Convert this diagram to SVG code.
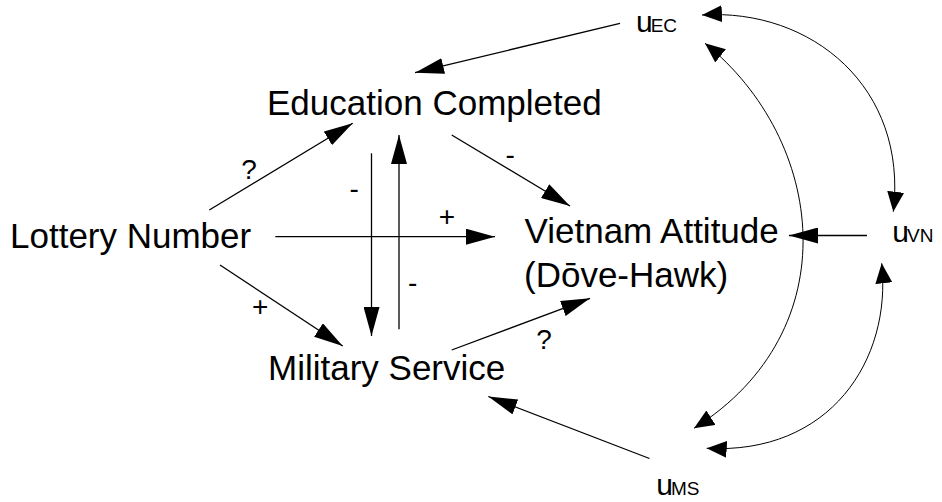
<svg xmlns="http://www.w3.org/2000/svg" width="942" height="502" viewBox="0 0 942 502">
  <defs>
    <style>
      .node { font-family: "Liberation Sans", Arial, sans-serif; font-size: 35px; fill: #000; }
      .u { font-family: "Liberation Sans", Arial, sans-serif; font-size: 30px; fill: #000; }
      .sub { font-size: 19px; }
      .lbl { font-family: "Liberation Sans", Arial, sans-serif; font-size: 28px; fill: #000; }
      .edge { fill: none; stroke: #000; stroke-width: 1.3; }
      .curve { fill: none; stroke: #000; stroke-width: 1; }
    </style>
    <marker id="arrow" markerUnits="userSpaceOnUse" markerWidth="29" markerHeight="16" refX="29" refY="8" orient="auto">
      <path d="M0,0 L29,8 L0,16 z" fill="#000"/>
    </marker>
    <marker id="carrow" markerUnits="userSpaceOnUse" markerWidth="20" markerHeight="17" refX="20" refY="8.5" orient="auto-start-reverse">
      <path d="M0,0 L20,8.5 L0,17 z" fill="#000"/>
    </marker>
  </defs>
  <rect width="942" height="502" fill="#fff"/>

  <g id="connectors">
    <line class="edge" x1="620" y1="23.3" x2="415" y2="72.7" marker-end="url(#arrow)"/>
    <line class="edge" x1="209.3" y1="210" x2="352.7" y2="123.3" marker-end="url(#arrow)"/>
    <line class="edge" x1="220" y1="265" x2="342.7" y2="346" marker-end="url(#arrow)"/>
    <line class="edge" x1="275.3" y1="236.7" x2="495" y2="236.7" marker-end="url(#arrow)"/>
    <line class="edge" x1="371.5" y1="153.3" x2="371.5" y2="336" marker-end="url(#arrow)"/>
    <line class="edge" x1="399" y1="329.3" x2="399" y2="135" marker-end="url(#arrow)"/>
    <line class="edge" x1="451.7" y1="135" x2="570" y2="206" marker-end="url(#arrow)"/>
    <line class="edge" x1="451.7" y1="350" x2="590" y2="298.3" marker-end="url(#arrow)"/>
    <line class="edge" x1="867" y1="235.5" x2="789" y2="235.5" marker-end="url(#arrow)"/>
    <line class="edge" x1="649.5" y1="458.5" x2="488.3" y2="396.5" marker-end="url(#arrow)"/>
    <path class="curve" d="M702,15 C812,8 908,88 893.3,211.7" marker-start="url(#carrow)" marker-end="url(#carrow)"/>
    <path class="curve" d="M705,43.3 C825,140 850,330 694,428.3" marker-start="url(#carrow)" marker-end="url(#carrow)"/>
    <path class="curve" d="M881.7,263.3 C892,360 830,455 706.7,448.3" marker-start="url(#carrow)" marker-end="url(#carrow)"/>
    <g id="edge-labels">
      <text class="lbl" x="241.3" y="179">?</text>
      <text class="lbl" x="349.4" y="197.6">-</text>
      <text class="lbl" x="438.7" y="226">+</text>
      <text class="lbl" x="408" y="291.6">-</text>
      <text class="lbl" x="252" y="316">+</text>
      <text class="lbl" x="505.4" y="163.6">-</text>
      <text class="lbl" x="536.3" y="349">?</text>
    </g>
  </g>

  <g id="lottery-number"><text class="node" x="10" y="248">Lottery Number</text></g>
  <g id="education-completed"><text class="node" x="267" y="114.5">Education Completed</text></g>
  <g id="military-service"><text class="node" x="268" y="380">Military Service</text></g>
  <g id="vietnam-attitude">
    <text class="node" x="524.5" y="243.3">Vietnam Attitude</text>
    <text class="node" x="524" y="287.3">(Dōve-Hawk)</text>
  </g>
  <g id="u-ec"><text class="u" x="636" y="32">u<tspan class="sub" dx="-2">EC</tspan></text></g>
  <g id="u-vn"><text class="u" x="892.3" y="241.7">u<tspan class="sub" dx="-2">VN</tspan></text></g>
  <g id="u-ms"><text class="u" x="656.3" y="495">u<tspan class="sub" dx="-2">MS</tspan></text></g>
</svg>
